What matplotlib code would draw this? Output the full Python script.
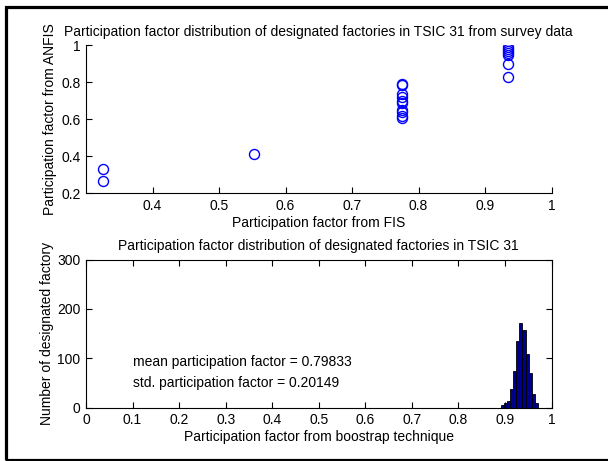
import matplotlib
matplotlib.use('Agg')
import matplotlib.pyplot as plt
from matplotlib.patches import Rectangle
import numpy as np

# survey data: FIS vs ANFIS participation factors
fis = [0.325, 0.325, 0.552,
       0.775, 0.775, 0.775, 0.775, 0.775, 0.775, 0.775, 0.775, 0.775, 0.775,
       0.935, 0.935, 0.935, 0.935, 0.935, 0.935, 0.935]
anfis = [0.33, 0.27, 0.415,
         0.79, 0.785, 0.74, 0.72, 0.70, 0.69, 0.65, 0.64, 0.62, 0.61,
         0.99, 0.98, 0.97, 0.96, 0.95, 0.90, 0.83]

# bootstrap histogram (bin edges and counts)
bin_edges = np.linspace(0.891, 0.971, 13)
counts = [5, 9, 14, 38, 75, 135, 171, 158, 109, 69, 28, 9]

mean_pf = 0.79833
std_pf = 0.20149

plt.rcParams['font.family'] = ['Liberation Sans', 'DejaVu Sans']
plt.rcParams['font.size'] = 10

W, H = 608, 461
fig = plt.figure(figsize=(W / 100, H / 100), dpi=100)


def box(l, t, r, b):
    return [l / W, 1 - b / H, (r - l) / W, (b - t) / H]


# top: scatter
ax1 = fig.add_axes(box(86, 45.5, 551.5, 193.5))
ax1.plot(fis, anfis, 'o', mfc='none', mec='#0000ff', ms=7.2, mew=1.0)
ax1.set_xlim(0.3, 1)
ax1.set_ylim(0.2, 1)
ax1.set_xticks([0.4, 0.5, 0.6, 0.7, 0.8, 0.9, 1])
ax1.set_xticklabels(['0.4', '0.5', '0.6', '0.7', '0.8', '0.9', '1'])
ax1.set_yticks([0.2, 0.4, 0.6, 0.8, 1])
ax1.set_yticklabels(['0.2', '0.4', '0.6', '0.8', '1'])
ax1.spines['top'].set_visible(False)
ax1.spines['right'].set_visible(False)
ax1.tick_params(direction='in', length=4, width=0.8, pad=4)
ax1.set_xlabel('Participation factor from FIS', labelpad=2)
ax1.set_ylabel('Participation factor from ANFIS', labelpad=3)
ax1.set_title('Participation factor distribution of designated factories in TSIC 31 from survey data',
              fontsize=10, pad=7)

# bottom: histogram
ax2 = fig.add_axes(box(86, 259.5, 551.5, 407.5))
ax2.bar(bin_edges[:-1], counts, width=np.diff(bin_edges), align='edge',
        color='#00008f', edgecolor='black', linewidth=0.6)
ax2.set_xlim(0, 1)
ax2.set_ylim(0, 300)
ax2.set_xticks(np.arange(0, 1.01, 0.1))
ax2.set_xticklabels(['0', '0.1', '0.2', '0.3', '0.4', '0.5', '0.6', '0.7', '0.8', '0.9', '1'])
ax2.set_yticks([0, 100, 200, 300])
ax2.tick_params(direction='in', length=4, width=0.8, top=True, right=True, pad=4)
ax2.set_xlabel('Participation factor from boostrap technique', labelpad=2)
ax2.set_ylabel('Number of designated factory', labelpad=2)
ax2.set_title('Participation factor distribution of designated factories in TSIC 31',
              fontsize=10, pad=7)
ax2.text(0.1, 92, 'mean participation factor = %g' % mean_pf, va='center')
ax2.text(0.1, 50, 'std. participation factor = %g' % std_pf, va='center')

# outer frame (right edge cut off)
fig.patches.append(Rectangle((5.5, 1.5), 700, H - 8, transform=None,
                             fill=False, edgecolor='black', linewidth=2.3))

fig.savefig('out.png', dpi=100)
